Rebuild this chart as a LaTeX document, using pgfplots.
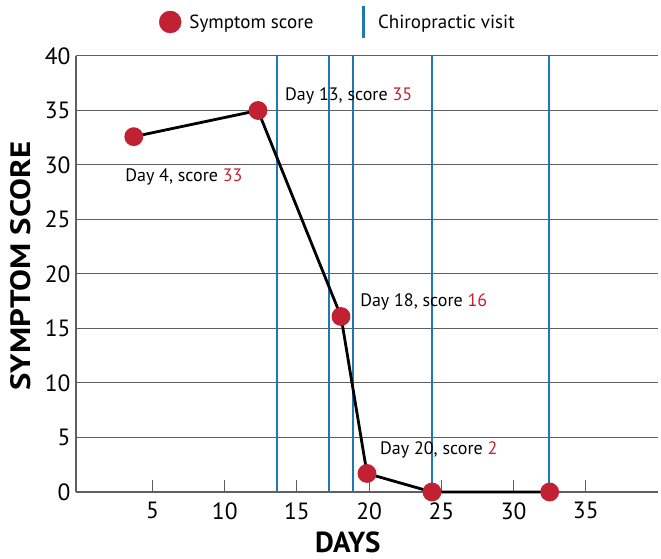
\documentclass[border=0pt]{standalone}
\usepackage{pgfplots}
\pgfplotsset{compat=1.18}
\usepackage{fontspec}
\setmainfont{PT Sans}
\definecolor{myred}{RGB}{193,33,50}
\definecolor{myblue}{RGB}{31,119,180}
\definecolor{gridgray}{RGB}{95,95,95}

\begin{document}
\begin{tikzpicture}
\begin{axis}[
  scale only axis,
  width=582pt, height=436pt,
  xmin=-0.3, xmax=40,
  ymin=0, ymax=40,
  axis x line*=bottom,
  axis y line*=left,
  axis line style={gridgray, line width=1.1pt, -},
  xtick={5,10,...,35},
  ytick={0,5,...,40},
  tick align=inside,
  major tick length=12pt,
  xtick style={gridgray, line width=1pt},
  ytick style={draw=none},
  ymajorgrids,
  major grid style={gridgray, line width=1pt},
  /pgf/number format/assume math mode=true,
  ticklabel style={font=\fontsize{23.5}{25}\selectfont},
  xticklabel style={yshift=-7pt},
  yticklabel style={xshift=-2pt},
  xlabel={\bfseries DAYS},
  ylabel={\scalebox{1.17}[1]{\bfseries SYMPTOM SCORE}},
  xlabel style={font=\fontsize{29}{31}\selectfont, inner sep=0pt,
    at={(axis description cs:0.467,0)}, anchor=center, yshift=-50pt},
  ylabel style={font=\fontsize{28}{30}\selectfont, inner sep=0pt,
    at={(axis description cs:0,0.518)}, anchor=center, yshift=55pt},
  legend columns=2,
  legend style={at={(0.45,1.078)}, anchor=center, draw=none, fill=none,
    inner sep=1pt,
    font=\fontsize{19}{21}\selectfont,
    /tikz/every even column/.append style={column sep=47pt}},
  clip=false,
]
\addlegendimage{legend image code/.code={\fill[myred] (0,0) circle (11pt); \path (17pt,0);}}
\addlegendentry{Symptom score}
\addlegendimage{legend image code/.code={\draw[myblue, line width=3pt] (0,-16pt) -- (0,16pt); \path (12pt,0);}}
\addlegendentry{Chiropractic visit}

% chiropractic visits
\addplot[myblue, line width=1.6pt, forget plot] coordinates {(13.6,0) (13.6,40)};
\addplot[myblue, line width=1.6pt, forget plot] coordinates {(17.2,0) (17.2,40)};
\addplot[myblue, line width=1.6pt, forget plot] coordinates {(18.9,0) (18.9,40)};
\addplot[myblue, line width=1.6pt, forget plot] coordinates {(24.35,0) (24.35,40)};
\addplot[myblue, line width=1.6pt, forget plot] coordinates {(32.45,0) (32.45,40)};

% symptom score
\addplot[black, line width=2.8pt, mark=*, mark size=8pt,
  mark options={fill=myred, draw=myred}, forget plot] coordinates {
  (3.7,32.6) (12.3,35) (18.05,16.1) (19.85,1.7) (24.35,0) (32.5,0)
};

\begin{scope}[every node/.style={anchor=west, inner sep=0pt, font=\fontsize{18}{20}\selectfont}]
\node at (axis cs:3.1,28.9) {Day 4, score \textcolor{myred}{33}};
\node at (axis cs:14.17,36.3) {Day 13, score \textcolor{myred}{35}};
\node at (axis cs:19.37,17.4) {Day 18, score \textcolor{myred}{16}};
\node at (axis cs:20.75,3.9) {Day 20, score \textcolor{myred}{2}};
\end{scope}
\end{axis}
\path (current axis.south west) ++(-76pt,-67pt) coordinate (bl);
\path (current axis.north east) ++(3pt,56pt) coordinate (tr);
\path (bl) rectangle (tr);
\end{tikzpicture}
\end{document}
